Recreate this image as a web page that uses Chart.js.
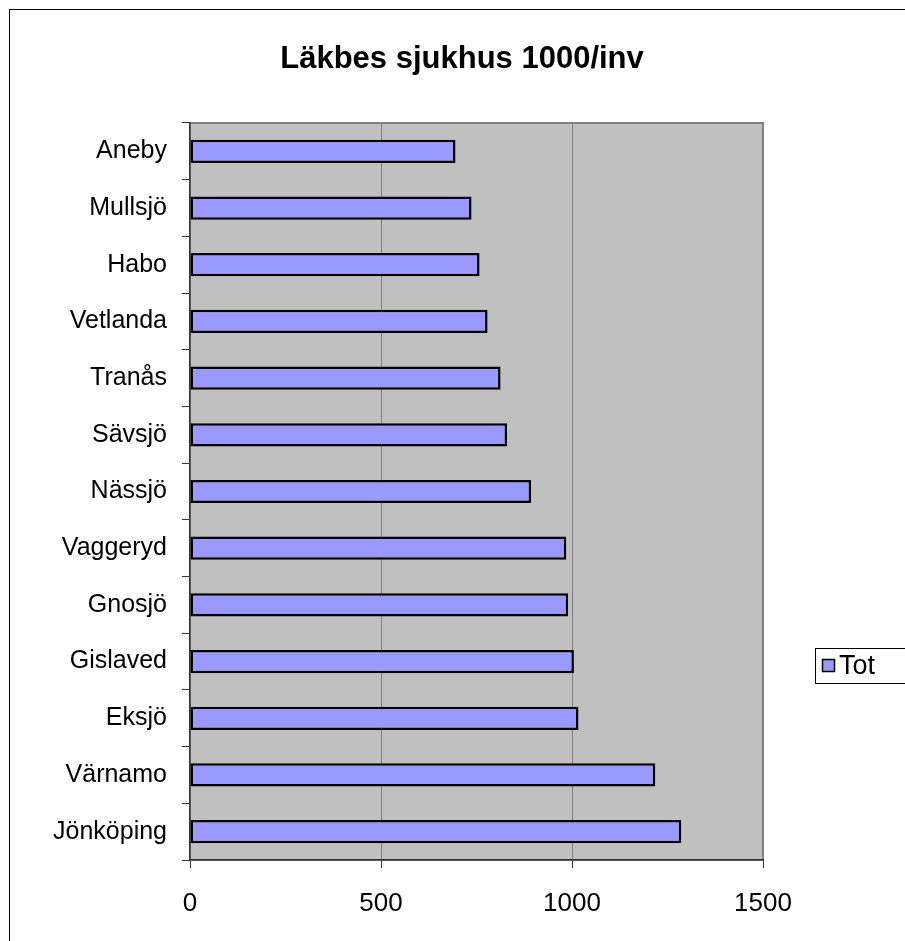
<!DOCTYPE html>
<html>
<head>
<meta charset="utf-8">
<script src="https://cdn.jsdelivr.net/npm/chart.js@4/dist/chart.umd.min.js"></script>
<style>
  html, body { margin: 0; padding: 0; background: #ffffff; }
  #wrap { width: 905px; height: 941px; }
</style>
</head>
<body>
<div id="wrap"><canvas id="c" width="905" height="941"></canvas></div>
<script>
const chartTitle = "Läkbes sjukhus 1000/inv";
const seriesName = "Tot";
const categories = ["Aneby", "Mullsjö", "Habo", "Vetlanda", "Tranås", "Sävsjö", "Nässjö", "Vaggeryd", "Gnosjö", "Gislaved", "Eksjö", "Värnamo", "Jönköping"];
const totValues = [695, 737, 758, 779, 813, 830, 893, 985, 990, 1005, 1017, 1218, 1286];
const xTicks = [0, 500, 1000, 1500];

const FONT = "'Liberation Sans', Arial, sans-serif";
const BAR_COLOR = "#9999ff";

const decorPlugin = {
  id: "decor",
  beforeDraw(chart) {
    const ctx = chart.ctx;
    const a = chart.chartArea;
    ctx.save();
    ctx.fillStyle = "#ffffff";
    ctx.fillRect(0, 0, chart.width, chart.height);
    ctx.strokeStyle = "#000000";
    ctx.lineWidth = 1;
    ctx.strokeRect(9.5, 9.5, chart.width + 20, chart.height + 20);
    ctx.fillStyle = "#c0c0c0";
    ctx.fillRect(a.left, a.top, a.right - a.left, a.bottom - a.top);
    ctx.strokeStyle = "#808080";
    ctx.lineWidth = 2;
    ctx.strokeRect(a.left, a.top, a.right - a.left, a.bottom - a.top);
    ctx.fillStyle = "#000000";
    ctx.font = "bold 31px " + FONT;
    ctx.textAlign = "center";
    ctx.textBaseline = "middle";
    ctx.fillText(chartTitle, 462, 59);
    ctx.restore();
  },
  afterDraw(chart) {
    const ctx = chart.ctx;
    const ds = chart.data.datasets[0];
    ctx.save();
    ctx.fillStyle = "#ffffff";
    ctx.fillRect(815, 648, 100, 36);
    ctx.strokeStyle = "#000000";
    ctx.lineWidth = 1;
    ctx.strokeRect(815.5, 648.5, 100, 35);
    ctx.fillStyle = ds.backgroundColor;
    ctx.fillRect(822, 659, 13, 13);
    ctx.lineWidth = 1.5;
    ctx.strokeRect(822.5, 659.5, 12, 12);
    ctx.fillStyle = "#000000";
    ctx.font = "27px " + FONT;
    ctx.textAlign = "left";
    ctx.textBaseline = "middle";
    ctx.fillText(ds.label, 839, 667);
    ctx.restore();
  }
};

new Chart(document.getElementById("c"), {
  type: "bar",
  data: {
    labels: categories,
    datasets: [{
      label: seriesName,
      data: totValues,
      backgroundColor: BAR_COLOR,
      borderColor: "#000000",
      borderWidth: 2.5,
      borderSkipped: false,
      categoryPercentage: 1.0,
      barPercentage: 0.41
    }]
  },
  options: {
    indexAxis: "y",
    responsive: false,
    animation: false,
    events: [],
    layout: { padding: { left: 0, top: 123, right: 142, bottom: 0 } },
    plugins: {
      legend: { display: false },
      title: { display: false },
      tooltip: { enabled: false }
    },
    scales: {
      x: {
        type: "linear",
        min: 0,
        max: 1500,
        afterBuildTicks(scale) { scale.ticks = xTicks.map(v => ({ value: v })); },
        afterFit(scale) { scale.height = 81; },
        grid: {
          color: "#808080",
          lineWidth: 1,
          drawOnChartArea: true,
          drawTicks: true,
          tickLength: 8,
          tickColor: "#333333"
        },
        border: { display: true, color: "#333333", width: 1.5 },
        ticks: {
          color: "#000000",
          font: { family: FONT, size: 26 },
          padding: 20,
          maxRotation: 0,
          callback: (v) => String(v)
        }
      },
      y: {
        type: "category",
        afterFit(scale) { scale.width = 190; },
        grid: {
          offset: true,
          drawOnChartArea: false,
          drawTicks: true,
          tickLength: 8,
          color: "#333333"
        },
        border: { display: true, color: "#333333", width: 1.5 },
        ticks: {
          color: "#000000",
          font: { family: FONT, size: 25 },
          padding: 15,
          autoSkip: false
        }
      }
    }
  },
  plugins: [decorPlugin]
});
</script>
</body>
</html>
